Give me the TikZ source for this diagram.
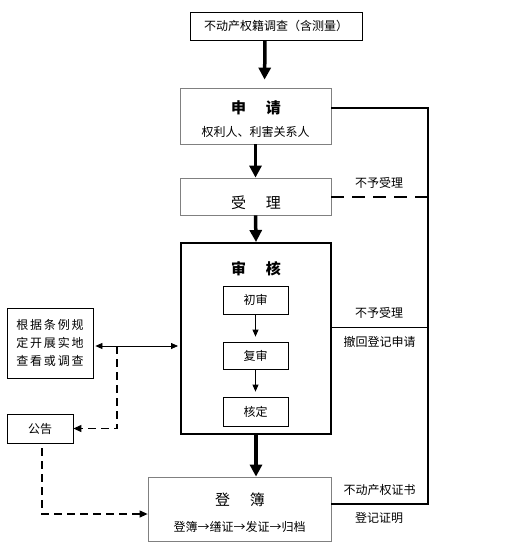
\documentclass[tikz,border=0pt]{standalone}
\usepackage{fontspec}
\setmainfont{Noto Sans CJK SC}
\usetikzlibrary{arrows.meta}
\definecolor{randgrau}{RGB}{128,128,128}

\begin{document}
\begin{tikzpicture}[x=1pt, y=-1pt,
	font=\fontsize{12}{14}\selectfont,
	kasten/.style={draw, line width=0.8pt, inner sep=0pt},
	grau/.style={kasten, draw=randgrau},
	titel/.style={font=\fontsize{15}{17}\selectfont},
	dick/.style={line width=3.5pt, -{Triangle[width=12pt, length=12pt]}},
	duenn/.style={line width=0.8pt, -{Triangle[width=6pt, length=7pt]}},
	gestrichelt/.style={line width=1.2pt, dash pattern=on 8pt off 5pt}]
\useasboundingbox (0,0) rectangle (507,560);

% Kasten oben
\node[kasten, minimum width=172pt, minimum height=28pt] (survey) at (276,26) {不动产权籍调查（含测量）};

% Hauptkette
\node[grau, minimum width=151pt, minimum height=56pt] (apply) at (255.5,116) {};
\node[titel] (applyT) at (256,108) {\bfseries 申\hspace{20pt}请};
\node (applyS) at (255.5,132) {权利人、利害关系人};

\node[grau, minimum width=151pt, minimum height=37pt] (accept) at (255.5,196.5) {};
\node[titel] (acceptT) at (256,203) {受\hspace{20pt}理};

\node[kasten, line width=2pt, minimum width=150pt, minimum height=191pt] (review) at (256,338.5) {};
\node[titel] (reviewT) at (256,269) {\bfseries 审\hspace{20pt}核};
\node[kasten, minimum width=65pt, minimum height=28pt] (first) at (255.5,300) {初审};
\node[kasten, minimum width=65pt, minimum height=27pt] (second) at (255.5,355.5) {复审};
\node[kasten, minimum width=65pt, minimum height=29pt] (final) at (255.5,411.5) {核定};

\node[grau, minimum width=183pt, minimum height=64pt] (reg) at (239.5,509) {};
\node[titel] (regT) at (240,500) {登\hspace{20pt}簿};
\node (regS) at (239.5,527) {登簿→缮证→发证→归档};

% Links
\node[kasten, minimum width=86pt, minimum height=70pt, align=center] (check) at (50,343)
	{\addfontfeature{LetterSpace=15}根据条例规\\[4pt]\addfontfeature{LetterSpace=15}定开展实地\\[4pt]\addfontfeature{LetterSpace=15}查看或调查};
\node[kasten, minimum width=66pt, minimum height=29pt] (notice) at (40,428.5) {公告};

% Pfeile
\draw[dick, shorten >=8pt] ([xshift=-11pt]survey.south) -- ([xshift=9pt]apply.north);
\draw[dick] (apply.south) -- (accept.north);
\draw[dick] (accept.south) -- (review.north);
\draw[dick] (review.south) -- (review.south |- reg.north);
\draw[duenn, shorten >=5pt] (first) -- (second);
\draw[duenn, shorten >=5pt] (second) -- (final);

% Rechte Seite
\coordinate (ro) at (428,108);
\coordinate (ru) at (428,504);
\draw[line width=1.8pt] ([yshift=8pt]apply.east) -- (ro) -- (ru) -- ([yshift=5pt]reg.east);
\draw[line width=2pt, dash pattern=on 13pt off 8pt] (accept.east) -- (accept.east -| ro);
\draw[line width=0.8pt] ([yshift=11.5pt]review.east) -- ([yshift=11.5pt]review.east -| ro);
\node (refuse1) at (379,183) {不予受理};
\node (refuse2) at (379,313) {不予受理};
\node (withdraw) at (379.5,342) {撤回登记申请};
\node (cert) at (379.5,490) {不动产权证书};
\node (proof) at (379,518) {登记证明};

% Linke Seite
\draw[line width=0.8pt, {Triangle[width=6pt, length=7pt]}-{Triangle[width=6pt, length=7pt]}, shorten <=2pt, shorten >=2pt]
	([yshift=-3pt]check.east) -- ([yshift=-3pt]check.east -| review.west);
\coordinate (abzw) at (117,346);
\draw[gestrichelt, -{Triangle[width=7pt, length=8pt]}] (abzw) |- (notice.east);
\draw[gestrichelt, -{Triangle[width=7pt, length=8pt]}, shorten <=5pt] ([xshift=2pt]notice.south) |- ([yshift=-5pt]reg.west);
\end{tikzpicture}
\end{document}
